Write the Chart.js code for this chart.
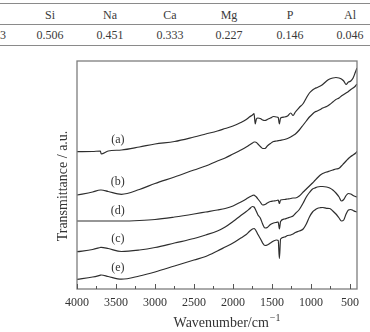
<!DOCTYPE html>
<html><head><meta charset="utf-8">
<script src="https://cdn.jsdelivr.net/npm/chart.js@4.4.1/dist/chart.umd.min.js"></script>
<style>
html,body{margin:0;padding:0;background:#fff;}
#wrap{position:relative;width:370px;height:332px;overflow:hidden;font-family:"Liberation Serif","Times New Roman",serif;color:#3a3a3a;}
.hl{position:absolute;left:0;width:370px;height:1px;background:#8a8a8a;}
.cell{position:absolute;font-size:12px;line-height:12px;transform:translateX(-50%);white-space:nowrap;}
canvas{position:absolute;left:0;top:0;}
</style></head><body>
<div id="wrap">
<div id="tbl"></div>
<canvas id="c" width="370" height="332"></canvas>
</div>
<script>
// ---- table data ----
const tableHeaders = ['', 'Si', 'Na', 'Ca', 'Mg', 'P', 'Al'];
const tableValues  = ['3', '0.506', '0.451', '0.333', '0.227', '0.146', '0.046'];

// ---- spectrum data (wavenumber in cm^-1, transmittance in a.u.) ----
const wavenumbers = [4000,3800,3700,3690,3600,3430,3200,3000,2750,2500,2350,2200,2100,2000,1900,1830,1790,1750,1730,1715,1700,1680,1650,1620,1590,1560,1520,1480,1440,1420,1405,1390,1340,1300,1260,1230,1200,1150,1100,1060,1020,980,950,920,880,850,800,760,720,680,640,610,580,550,520,490,460,430,410];

const seriesA = [137.3,137.5,138,135,138,139,142,145,147.5,152,155,158,160.5,163,166.5,169.5,172,174,175.5,165,170,171,170.5,169,168.5,169.5,171,172.5,172,171.5,165,171,172,173,176,173.5,177,181.5,185.5,191,196,199,200.5,201.5,203,204.5,208,210,211,211.5,211,210,208,204.5,207,208,211,217,221];
const seriesB = [94,97,99,99,97.5,94.7,99.5,105.5,112,119,123,128,131,135,139,142,144,146,147,147,146.5,145,142.5,140.5,140.5,143,145.5,147.5,148,148.3,148.5,148.7,149.5,150.5,152,153.5,155,159,164,168,172,175,177,178,179.5,181,182.5,184.5,187,189.5,191,193,194.5,196,197.5,199.5,201,203,205];
const seriesC = [37.3,39.5,41.5,41.7,40.5,37.5,39,41.5,46,50.5,54,58,62,67.5,73.5,77.5,80,82.5,82,80,77.5,74,71,65,61,61.5,64.5,66,66.7,67,60,67.5,70,71,72,73,75.5,79.5,86,92,96.5,100,101,102,102.5,102.5,102,101,99,96,92,88,89.5,93.5,95.5,95,93.5,92.5,92];
const seriesD = [68,68,68,68,68,68,68.5,69.5,72,75,77,79,80.5,83,87,90,92,93.5,94,93,92,90,87,84,84.5,86,87.5,88,88.5,89,85.5,89,89.5,90,90.5,91,91,93,97,100,103,106,108.5,111,114,115.5,117,118,119,120,120.7,123,125.5,128,130.5,132.5,134,135.7,137.5];
const seriesE = [9.7,12,13.8,14,12.5,9.8,13,17,23,29,32.5,38,42,46,51,54.5,57.5,60,60.5,59.5,57.5,54.5,50.5,46,43.5,44,46,48,49,48.5,30.5,50,52,53.5,54,55,56.5,58,60,65,72,77,79,80.5,81.3,81.5,80.7,80.5,78,75,71,68,69,75,79,79.5,78.5,77.5,77];

const seriesNames = ['(a)', '(b)', '(c)', '(d)', '(e)'];
const xTickLabels = [4000, 3500, 3000, 2500, 2000, 1500, 1000, 500];
const xMinorTicks = [3750, 3250, 2750, 2250, 1750, 1250, 750];

// ---- build table ----
const tbl = document.getElementById('tbl');
const colX = [3, 50, 110, 170, 229, 290, 350];
[3, 24, 45].forEach(y => { const d = document.createElement('div'); d.className = 'hl'; d.style.top = y + 'px'; tbl.appendChild(d); });
tableHeaders.forEach((t, i) => { const s = document.createElement('div'); s.className = 'cell'; s.textContent = t; s.style.left = colX[i] + 'px'; s.style.top = '9px'; tbl.appendChild(s); });
tableValues.forEach((t, i) => { const s = document.createElement('div'); s.className = 'cell'; s.textContent = t; s.style.left = colX[i] + 'px'; s.style.top = '29px'; tbl.appendChild(s); });

// ---- chart ----
const allSeries = [seriesA, seriesB, seriesC, seriesD, seriesE];
const mk = vals => wavenumbers.map((w, i) => ({ x: w, y: vals[i] }));
const labelAnchor = { x: 3476, y: [149, 107, 50, 78, 21] };
const FONT = '"Liberation Serif","Times New Roman",serif';
const INK = '#333';

const decor = {
  id: 'decor',
  afterDraw(chart) {
    const { ctx, chartArea: a, scales: { x, y } } = chart;
    ctx.save();
    // frame
    ctx.strokeStyle = '#7d7d7d';
    ctx.lineWidth = 1.3;
    ctx.strokeRect(a.left, a.top, a.right - a.left, a.bottom - a.top);
    // inside ticks
    ctx.lineWidth = 1;
    ctx.strokeStyle = '#555';
    xTickLabels.forEach(v => { const px = Math.round(x.getPixelForValue(v)) + 0.5; ctx.beginPath(); ctx.moveTo(px, a.bottom); ctx.lineTo(px, a.bottom - 5); ctx.stroke(); });
    xMinorTicks.forEach(v => { const px = Math.round(x.getPixelForValue(v)) + 0.5; ctx.beginPath(); ctx.moveTo(px, a.bottom); ctx.lineTo(px, a.bottom - 3); ctx.stroke(); });
    // series labels
    ctx.fillStyle = INK;
    ctx.font = '12px ' + FONT;
    ctx.textAlign = 'center';
    ctx.textBaseline = 'middle';
    seriesNames.forEach((n, i) => ctx.fillText(n, x.getPixelForValue(labelAnchor.x), y.getPixelForValue(labelAnchor.y[i])));
    // y title
    ctx.save();
    ctx.translate(63, 186);
    ctx.rotate(-Math.PI / 2);
    ctx.font = '14px ' + FONT;
    ctx.fillText('Transmittance / a.u.', 0, 0);
    ctx.restore();
    // x title with superscript
    ctx.font = '14px ' + FONT;
    const main = 'Wavenumber/cm';
    const sup = '\u22121';
    const w1 = ctx.measureText(main).width;
    ctx.font = '10px ' + FONT;
    const w2 = ctx.measureText(sup).width;
    const sx = 227 - (w1 + w2 + 1) / 2;
    ctx.textAlign = 'left';
    ctx.textBaseline = 'alphabetic';
    ctx.font = '14px ' + FONT;
    ctx.fillText(main, sx, 327);
    ctx.font = '10px ' + FONT;
    ctx.fillText(sup, sx + w1 + 1, 321);
    ctx.restore();
  }
};

new Chart(document.getElementById('c'), {
  type: 'line',
  data: {
    datasets: allSeries.map((v, i) => ({
      label: seriesNames[i],
      data: mk(v),
      borderColor: '#2e2e2e',
      borderWidth: 1.2,
      pointRadius: 0,
      fill: false,
      cubicInterpolationMode: 'monotone'
    }))
  },
  options: {
    responsive: false,
    animation: false,
    layout: { padding: { left: 77, right: 13, top: 61, bottom: 0 } },
    plugins: { legend: { display: false }, tooltip: { enabled: false } },
    scales: {
      x: {
        type: 'linear', reverse: true, min: 410, max: 4000,
        afterBuildTicks: s => { s.ticks = xTickLabels.map(v => ({ value: v })); },
        afterFit: s => { s.height = 43; },
        grid: { display: false, drawTicks: false },
        border: { display: false },
        ticks: { padding: 7, color: INK, autoSkip: false, maxRotation: 0, font: { family: FONT, size: 12 }, callback: v => String(v) }
      },
      y: { display: false, min: 0, max: 228 }
    }
  },
  plugins: [decor]
});
</script>
</body></html>
